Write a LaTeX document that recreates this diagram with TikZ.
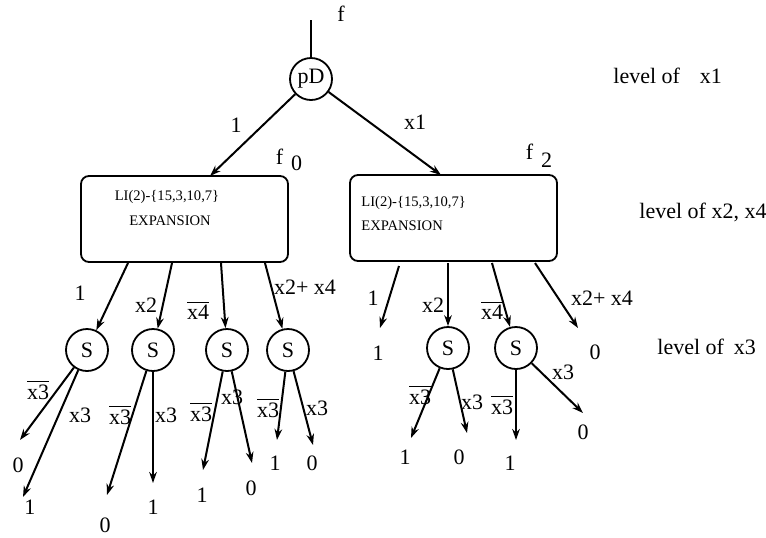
\documentclass[tikz,border=0pt]{standalone}
\usepackage{fontspec}
\setmainfont{Liberation Serif}
\usetikzlibrary{arrows.meta}

\newcommand{\lblfont}{\fontsize{11}{13}\selectfont}
\newcommand{\nx}[1]{$\overline{\hbox{#1}}$}

\tikzset{
  opnode/.style={draw, circle, line width=0.9pt, minimum size=21pt, inner sep=0pt, font=\lblfont},
  expbox/.style={draw, rounded corners=4pt, line width=0.9pt, minimum width=103.5pt, minimum height=43pt},
  lbl/.style={font=\lblfont, inner sep=0pt},
  boxtxt/.style={font=\fontsize{7.3}{8}\selectfont, inner sep=0pt},
  branch/.style={line width=1pt, -{Stealth[length=5.5pt,width=3.8pt]}},
}

\begin{document}
\begin{tikzpicture}[x=0.5pt, y=-0.5pt]
  \useasboundingbox (0,0) rectangle (766,537);

  % top decomposition node
  \coordinate (ftop) at (311,20);
  \node[opnode] (pd) at (311,79) {pD};
  \node[lbl] (flbl) at (341,14) {f};
  \draw[line width=1pt] (ftop) -- (pd);

  % expansion boxes
  \node[expbox] (box0) at (184.5,219) {};
  \node[expbox] (box2) at (453.5,218) {};
  \node[boxtxt] (b0l1) at (167,197) {LI(2)-\{15,3,10,7\}};
  \node[boxtxt] (b0l2) at (170,221) {EXPANSION};
  \node[boxtxt, anchor=west] (b2l1) at (361,203) {LI(2)-\{15,3,10,7\}};
  \node[boxtxt, anchor=west] (b2l2) at (361,226) {EXPANSION};
  \node[lbl] (f0) at (289,160) {f\hspace{4pt}\raisebox{-3pt}{0}};
  \node[lbl] (f2) at (539,156) {f\hspace{4pt}\raisebox{-4pt}{2}};

  \coordinate (a0) at (210,176);
  \coordinate (a2) at (441,175);
  \draw[branch] (pd) -- (a0);
  \draw[branch] (pd) -- (a2);
  \node[lbl] at (236,125) {1};
  \node[lbl] at (415,122) {x1};

  % S nodes
  \node[opnode] (s1) at (87,350) {S};
  \node[opnode] (s2) at (153,350) {S};
  \node[opnode] (s3) at (227,350) {S};
  \node[opnode] (s4) at (288,350) {S};
  \node[opnode] (s5) at (448,348) {S};
  \node[opnode] (s6) at (516,348) {S};

  % branches out of the left box
  \coordinate (b0a) at (128,263);
  \coordinate (b0b) at (172,263);
  \coordinate (b0c) at (221,263);
  \coordinate (b0d) at (265,263);
  \draw[branch] (b0a) -- (s1);
  \draw[branch] (b0b) -- (s2);
  \draw[branch] (b0c) -- (s3);
  \draw[branch] (b0d) -- (s4);
  \node[lbl] at (80,293) {1};
  \node[lbl] at (146,305) {x2};
  \node[lbl] at (198,310) {\nx{x4}};
  \node[lbl] at (305,287) {x2+ x4};

  % branches out of the right box
  \coordinate (b2a) at (399,266);
  \coordinate (b2b) at (448,263);
  \coordinate (b2c) at (492,263);
  \coordinate (b2d) at (535,263);
  \coordinate (e2a) at (380,328);
  \coordinate (e2d) at (578,328);
  \draw[branch] (b2a) -- (e2a);
  \draw[branch] (b2b) -- (s5);
  \draw[branch] (b2c) -- (s6);
  \draw[branch] (b2d) -- (e2d);
  \node[lbl] at (373,298) {1};
  \node[lbl] at (433,305) {x2};
  \node[lbl] at (492,310) {\nx{x4}};
  \node[lbl] at (602,298) {x2+ x4};
  \node[lbl] (t2a) at (378,353) {1};
  \node[lbl] (t2d) at (595,352) {0};

  % terminal ends
  \coordinate (e1a) at (20,440);
  \coordinate (e1b) at (23,497);
  \coordinate (e2a') at (107,495);
  \coordinate (e2b') at (153,483);
  \coordinate (e3a) at (203,470);
  \coordinate (e3b) at (252,463);
  \coordinate (e4a) at (277,440);
  \coordinate (e4b) at (313,445);
  \coordinate (e5a) at (411,438);
  \coordinate (e5b) at (467,433);
  \coordinate (e6a) at (516,440);
  \coordinate (e6b) at (583,413);

  \draw[branch] (s1) -- (e1a);
  \draw[branch] (s1) -- (e1b);
  \draw[branch] (s2) -- (e2a');
  \draw[branch] (s2) -- (e2b');
  \draw[branch] (s3) -- (e3a);
  \draw[branch] (s3) -- (e3b);
  \draw[branch] (s4) -- (e4a);
  \draw[branch] (s4) -- (e4b);
  \draw[branch] (s5) -- (e5a);
  \draw[branch] (s5) -- (e5b);
  \draw[branch] (s6) -- (e6a);
  \draw[branch] (s6) -- (e6b);

  \node[lbl] at (38,390) {\nx{x3}};
  \node[lbl] at (80,415) {x3};
  \node[lbl] at (120,415) {\nx{x3}};
  \node[lbl] at (166,415) {x3};
  \node[lbl] at (201,412) {\nx{x3}};
  \node[lbl] at (232,397) {x3};
  \node[lbl] at (268,408) {\nx{x3}};
  \node[lbl] at (317,408) {x3};
  \node[lbl] at (420,395) {\nx{x3}};
  \node[lbl] at (472,402) {x3};
  \node[lbl] at (502,405) {\nx{x3}};
  \node[lbl] at (563,372) {x3};

  \node[lbl] (t1a) at (18,465) {0};
  \node[lbl] (t1b) at (30,507) {1};
  \node[lbl] (t2a') at (105,525) {0};
  \node[lbl] (t2b') at (153,507) {1};
  \node[lbl] (t3a) at (202,495) {1};
  \node[lbl] (t3b) at (251,488) {0};
  \node[lbl] (t4a) at (275,463) {1};
  \node[lbl] (t4b) at (312,463) {0};
  \node[lbl] (t5a) at (405,457) {1};
  \node[lbl] (t5b) at (459,457) {0};
  \node[lbl] (t6a) at (510,463) {1};
  \node[lbl] (t6b) at (583,432) {0};

  % level captions
  \node[lbl, anchor=west] (lv1) at (613,76) {level of\hspace{0.9em}x1};
  \node[lbl, anchor=west] (lv2) at (639,212) {level of x2, x4};
  \node[lbl, anchor=west] (lv3) at (657,347) {level of\hspace{0.45em}x3};
\end{tikzpicture}
\end{document}
